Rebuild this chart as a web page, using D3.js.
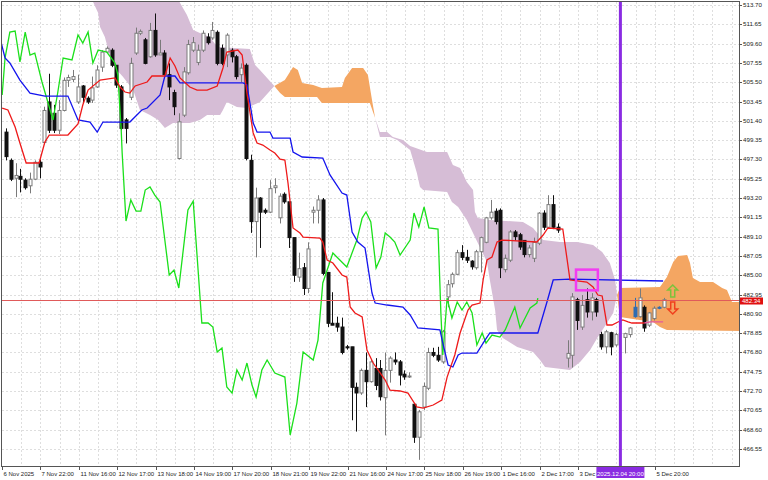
<!DOCTYPE html>
<html><head><meta charset="utf-8">
<script src="https://cdn.jsdelivr.net/npm/d3@7"></script>
<style>body{margin:0;background:#fff}svg{display:block}text{font-family:"Liberation Sans",Arial,sans-serif}</style>
</head><body><svg id="c" width="768" height="480"></svg>
<script>
// ---- candles (bar index 0..137), null = no bar ----
const openP  = [500.2,497.2,495.3,495.5,495.1,494.5,495.2,497.0,499.1,503.4,502.2,500.4,502.5,505.7,505.8,503.4,505.1,503.8,503.6,505.0,507.1,508.7,508.9,507.3,505.0,501.5,503.9,508.6,510.7,510.0,508.2,511.0,508.4,508.6,506.3,504.4,497.4,502.0,506.5,508.9,507.6,508.9,510.3,510.2,510.8,509.1,508.4,508.9,508.2,506.3,507.3,497.2,490.7,493.2,491.9,491.7,494.3,491.1,493.6,492.8,489.0,484.8,485.8,483.6,491.7,491.9,493.0,485.3,479.9,479.9,479.5,477.4,477.4,473.1,472.5,474.9,473.7,475.1,475.1,472.0,474.9,476.0,475.8,474.5,474.2,471.3,467.8,471.0,473.0,476.8,476.5,475.8,482.7,484.1,485.1,487.4,486.9,486.5,485.8,487.5,488.5,491.1,491.8,491.9,485.6,486.6,489.6,489.3,488.7,487.2,486.8,488.4,491.6,490.1,492.5,490.1,null,476.2,476.5,482.4,479.5,482.4,481.1,482.4,478.7,477.4,478.9,477.6,null,478.4,478.7,480.6,480.6,481.6,479.7,480.4,481.5,481.6];
const highP  = [500.6,497.4,496.9,496.3,495.3,495.9,497.2,497.3,502.9,506.4,503.1,503.6,506.0,506.3,506.8,506.3,505.2,504.0,506.1,507.3,508.9,509.3,509.1,507.3,505.2,501.7,508.1,511.3,511.1,510.2,511.8,512.8,510.0,508.9,507.5,504.7,502.2,507.1,510.0,510.3,509.5,511.0,510.7,511.9,511.0,509.5,510.7,509.1,508.4,507.5,507.5,497.8,494.3,493.3,492.1,495.1,495.3,493.7,493.8,492.8,489.0,487.4,486.3,488.5,492.3,493.5,493.2,485.3,483.2,480.6,480.5,477.6,477.4,473.6,475.1,476.8,476.0,476.2,476.0,476.8,476.4,476.8,476.0,474.9,474.7,471.4,470.7,473.6,477.3,477.3,477.4,479.2,484.5,485.3,487.7,488.2,487.7,486.6,487.7,489.1,491.2,493.0,492.1,492.1,487.2,489.8,489.8,489.5,488.7,488.2,489.0,491.7,491.9,493.5,493.5,490.5,null,478.1,483.1,482.6,482.9,483.6,483.1,482.6,479.0,479.2,479.0,478.9,null,478.9,479.5,482.6,483.6,481.8,481.1,481.7,481.7,482.6];
const lowP   = [497.2,495.0,493.3,493.8,494.1,493.7,495.1,495.3,499.0,500.1,500.1,500.0,502.4,505.0,505.5,503.2,503.3,503.2,503.3,504.9,506.6,508.6,507.1,504.9,500.4,499.0,503.6,508.4,510.5,507.4,508.1,508.2,508.4,506.2,503.6,502.0,497.3,501.8,506.3,508.7,507.3,508.7,509.5,510.0,507.3,507.3,507.1,507.6,505.8,505.5,497.2,489.5,486.9,487.9,491.5,491.6,493.7,490.5,492.6,487.9,484.3,484.3,482.9,483.1,490.5,490.5,485.0,479.5,479.7,479.0,476.6,477.1,469.6,468.4,472.3,471.0,473.6,472.8,471.7,468.0,473.6,475.5,473.3,473.9,474.1,467.2,465.4,470.7,472.8,476.3,475.8,475.6,481.6,483.7,485.0,486.6,486.3,485.6,485.6,485.3,488.4,490.9,490.4,484.7,485.3,486.4,488.7,487.7,486.9,486.9,486.4,488.2,489.8,490.0,489.9,489.5,null,475.2,475.2,479.2,479.2,480.5,480.2,480.6,477.1,476.7,476.5,477.4,null,476.7,478.4,480.5,480.5,479.0,479.5,480.2,481.4,481.5];
const closeP = [497.6,495.2,495.6,495.2,494.3,495.2,497.0,496.5,502.5,500.4,500.4,502.5,505.7,506.0,506.1,505.0,503.9,503.4,504.9,506.8,508.7,509.1,507.3,505.2,500.6,500.6,507.5,510.7,510.9,507.5,511.0,508.4,508.6,506.3,505.0,502.9,501.3,506.6,509.5,509.7,508.9,510.7,509.7,511.0,507.5,507.5,510.5,508.2,506.1,507.0,497.4,490.7,493.2,491.7,491.7,494.2,494.5,493.4,492.8,489.0,485.0,485.7,483.6,487.8,491.9,493.0,485.2,479.9,479.7,479.5,476.8,477.3,473.1,472.5,474.9,473.7,475.8,473.3,472.1,474.9,476.2,475.8,474.4,474.2,474.3,467.8,470.5,473.2,476.8,476.5,476.0,479.0,484.0,485.1,487.4,486.9,486.6,485.9,487.5,489.0,491.1,491.7,490.7,485.8,486.8,489.6,489.1,488.0,487.2,487.9,488.5,491.6,490.1,492.5,490.1,489.8,null,476.7,482.7,480.2,481.8,481.1,482.6,481.1,477.4,479.0,477.4,478.7,null,478.8,479.4,481.6,482.6,479.4,481.0,481.5,481.6,482.4];
const blueBars = [131, 136];

// ---- Ichimoku lines: [bar index, price] ----
const tenkan = [[-0.8,502.76],[0.4,502.55],[1.9,500.74],[2.9,499.04],[4.2,496.92],[6.9,496.92],[8.1,499.15],[9.0,499.89],[12.9,499.89],[15.0,501.06],[16.0,503.08],[17.1,504.67],[19.6,505.73],[22.7,505.95],[23.75,504.99],[24.8,504.46],[25.8,504.35],[26.9,505.10],[29.4,505.52],[30.4,506.16],[33.1,506.16],[34.2,508.07],[35.2,507.22],[36.25,505.95],[38.3,504.99],[39.8,504.67],[41.9,504.67],[44.0,505.10],[45.2,507.01],[46.0,508.71],[48.3,508.92],[49.2,508.39],[50.2,504.35],[51.5,500.11],[52.3,499.04],[53.5,498.83],[55.0,498.30],[56.0,497.98],[57.1,497.34],[58.1,497.24],[58.75,494.80],[59.8,490.02],[61.25,489.49],[61.9,489.06],[65.4,488.95],[66.0,488.53],[66.9,486.62],[68.1,486.30],[70.0,485.03],[71.0,484.81],[71.7,481.63],[72.7,480.99],[74.2,480.57],[75.2,477.06],[76.5,475.68],[77.5,474.94],[79.0,473.87],[80.0,472.81],[82.1,472.71],[83.75,472.49],[85.6,471.01],[86.9,470.90],[89.0,471.22],[90.8,471.75],[91.9,474.19],[93.5,476.53],[94.6,478.87],[96.25,481.31],[97.1,481.84],[98.75,482.05],[99.4,484.50],[100.2,486.62],[101.25,486.94],[102.3,488.53],[103.3,488.74],[110.6,488.53],[111.9,489.27],[112.9,490.02],[116.0,489.91],[117.5,484.50],[121.0,484.28],[122.3,483.75],[123.3,482.90],[124.2,482.80],[125.2,479.72],[126.25,479.72],[127.5,480.04],[128.5,480.25],[129.6,480.04],[130.4,479.93],[133.0,479.93],[134.2,480.04],[136.9,480.04]];
const tenkanPinkFrom = 133;
const kijun = [[-1.25,510.19],[-0.2,508.07],[0.8,507.54],[2.9,505.73],[5.0,504.35],[8.1,504.03],[12.9,504.03],[15.0,501.49],[17.5,501.27],[19.0,500.21],[20.2,501.27],[25.8,501.27],[28.3,502.55],[29.4,502.76],[32.1,504.14],[33.1,506.16],[35.2,506.16],[36.25,505.42],[49.4,505.42],[50.2,505.20],[51.5,501.17],[52.3,500.21],[55.0,500.21],[55.6,499.57],[59.2,499.57],[59.8,498.09],[61.7,497.56],[66.0,497.45],[67.5,495.65],[70.0,493.73],[71.0,493.52],[72.1,489.59],[73.3,488.53],[74.8,487.89],[76.25,483.11],[76.9,482.05],[79.4,481.84],[82.7,481.63],[84.2,480.78],[85.8,479.40],[90.4,479.19],[91.0,477.80],[92.1,475.47],[93.1,475.26],[94.2,476.53],[95.0,476.74],[98.1,476.74],[99.8,478.12],[100.8,478.87],[110.8,478.87],[112.7,482.16],[114.0,484.50],[117.5,484.60],[136.9,484.39]];
const chikou = [[-0.8,504.14],[-0.2,508.07],[0.8,510.83],[1.9,510.94],[2.9,507.65],[4.0,510.83],[5.0,508.39],[6.0,508.60],[7.5,505.52],[9.8,501.49],[10.8,504.46],[11.9,508.07],[13.75,507.86],[15.0,510.51],[16.0,509.66],[17.1,510.83],[18.1,507.54],[19.2,508.92],[21.0,508.71],[22.7,507.54],[23.3,506.27],[24.0,500.42],[24.2,497.98],[25.0,490.76],[26.0,492.99],[27.1,491.82],[28.1,491.82],[29.0,494.05],[30.0,494.37],[31.0,493.52],[32.1,492.78],[34.0,485.03],[35.0,485.56],[36.0,483.65],[37.9,491.93],[39.0,492.88],[40.8,479.93],[42.1,479.93],[43.1,479.50],[44.0,476.85],[45.0,477.27],[46.0,473.13],[47.1,472.49],[48.1,474.94],[49.2,473.87],[50.2,475.68],[51.25,473.34],[52.1,472.07],[53.3,474.94],[54.4,476.00],[56.0,474.62],[58.1,474.19],[59.2,468.03],[60.6,471.43],[61.9,476.85],[64.0,476.00],[65.0,478.12],[66.0,484.18],[68.1,487.36],[71.0,485.88],[73.1,488.74],[74.2,491.08],[75.0,491.72],[76.0,490.66],[77.1,485.77],[78.1,486.94],[79.0,489.49],[80.0,489.06],[81.0,488.53],[82.1,487.15],[84.2,488.74],[85.0,491.61],[86.0,490.12],[87.1,492.25],[88.1,490.02],[90.0,489.91],[90.6,480.99],[91.0,476.53],[91.9,482.58],[92.9,480.46],[94.0,482.16],[95.0,481.31],[96.0,482.16],[97.1,480.99],[98.1,477.59],[99.2,478.87],[100.0,477.80],[101.25,478.65],[102.9,478.44],[104.0,479.19],[106.0,481.63],[107.1,479.40],[109.2,481.52],[110.6,482.05],[110.8,482.58]];
const spanA = [[17.8,514.4],[19.2,512.85],[19.6,511.36],[20.6,510.30],[21.7,508.18],[23.1,506.80],[24.4,506.05],[26.5,504.67],[27.9,502.55],[30.0,502.02],[31.7,501.49],[33.1,500.64],[34.8,501.17],[38.3,501.17],[40.4,501.49],[41.9,502.02],[44.6,502.02],[45.2,502.55],[46.0,503.40],[48.1,502.87],[50.2,502.76],[52.9,503.40],[55.9,505.1],[58.1,505.73],[59.8,507.11],[60.8,506.80],[61.7,505.42],[64.0,505.20],[65.8,504.88],[70.0,504.99],[70.6,505.95],[72.1,507.01],[74.4,507.01],[75.4,506.27],[76.25,503.61],[76.9,501.70],[77.9,499.68],[80.0,499.68],[81.5,499.36],[84.2,498.30],[85.6,495.86],[86.25,494.37],[86.9,494.05],[91.9,493.84],[92.9,492.78],[94.2,492.25],[96.0,490.87],[98.3,488.42],[100.2,486.41],[100.8,484.50],[101.9,481.31],[102.3,479.19],[103.5,478.33],[106.5,477.38],[109.8,476.85],[111.25,476.00],[112.3,475.26],[117.5,474.94],[119.6,475.79],[121.7,477.06],[123.3,478.44],[125.2,479.93],[126.5,480.99],[127.3,482.90],[127.9,483.65],[136.25,483.75],[137.7,484.81],[139.0,486.41],[140.0,487.04],[141.9,487.15],[142.5,486.30],[143.1,484.71],[144.6,484.28],[147.3,484.28],[149.2,483.65],[150.2,483.43],[151.25,482.16],[154.0,482.16]];
const spanB = [[17.8,515.8],[35.5,514.6],[37.7,512.64],[39.0,511.04],[40.4,510.73],[42.5,510.30],[44.0,509.24],[50.8,509.03],[51.9,507.33],[52.9,506.80],[55.9,505.1],[57.1,504.35],[58.1,503.93],[64.8,503.93],[65.8,503.29],[75.8,503.29],[76.9,501.70],[77.9,500.21],[79.4,500.21],[80.6,499.68],[82.7,499.36],[84.2,498.73],[87.7,498.09],[91.9,498.09],[93.1,496.71],[94.6,496.39],[96.0,494.90],[97.3,494.05],[97.7,491.72],[98.3,491.08],[100.8,490.87],[107.7,490.66],[109.8,490.02],[111.9,488.74],[115.4,488.53],[119.0,488.53],[122.3,488.21],[124.2,487.47],[125.8,486.30],[126.9,484.50],[127.3,482.90],[127.9,480.56],[134.8,480.04],[136.25,479.50],[137.7,479.19],[154.0,479.08]];
const cloudCross = [55.9, 76.9, 127.3];

// ---- axes ----
const yTicks = [513.70,511.65,509.60,507.55,505.50,503.45,501.40,499.35,497.30,495.25,493.20,491.15,489.10,487.05,485.00,482.95,480.90,478.85,476.80,474.75,472.70,470.65,468.60,466.55];
const xTickLabels = ["6 Nov 2025","7 Nov 22:00","11 Nov 16:00","12 Nov 17:00","13 Nov 18:00","14 Nov 19:00","17 Nov 20:00","18 Nov 21:00","19 Nov 22:00","21 Nov 16:00","24 Nov 17:00","25 Nov 18:00","26 Nov 19:00","1 Dec 16:00","2 Dec 17:00","3 Dec 18:00",null,"5 Dec 20:00"];
const xTickEvery = 8;
const lastPrice = 482.34;
const eventBar = 128, eventLabel = "2025.12.04 20:00";
const markBox = {from:118.75, to:123.3, top:485.6, bottom:483.4};
const arrowBar = 138.9, upArrowPrice = 483.33, downArrowPrice = 481.52;

// ---- drawing ----
const svg = d3.select("#c");
svg.append("rect").attr("width",768).attr("height",480).attr("fill","#fff");
const P = {l:2, r:739, t:2, b:466};
const x = d3.scaleLinear().domain([0,1]).range([P.l, P.l+4.8]);
const barOff = 4;
const bx = i => x(i) + barOff;
const y = d3.scaleLinear().domain([466.55, 513.70]).range([449, 5]);
const ex = bx(eventBar), lw = 48;

svg.append("defs").append("clipPath").attr("id","pc").append("rect")
  .attr("x",P.l).attr("y",P.t).attr("width",P.r-P.l).attr("height",P.b-P.t);

// grid
const grid = svg.append("g").attr("stroke","#dedede").attr("stroke-dasharray","2,2").attr("stroke-width",1);
for (let s = 4; x(s) < P.r - 1; s += 4) {
  const xx = Math.round(x(s)) + 0.5;
  grid.append("line").attr("x1",xx).attr("x2",xx).attr("y1",P.t).attr("y2",P.b);
}
yTicks.forEach(t => {
  const yy = Math.round(y(t)) + 0.5;
  grid.append("line").attr("x1",P.l).attr("x2",P.r).attr("y1",yy).attr("y2",yy);
});

const plot = svg.append("g").attr("clip-path","url(#pc)");

// cloud
const bounds = [spanA[0][0], ...cloudCross, spanA[spanA.length-1][0]];
const polyLine = d3.line().x(d => bx(d[0])).y(d => y(d[1]));
for (let k = 0; k < bounds.length - 1; k++) {
  const a = bounds[k] - 1e-6, b = bounds[k+1] + 1e-6;
  const A = spanA.filter(d => d[0] >= a && d[0] <= b);
  const B = spanB.filter(d => d[0] >= a && d[0] <= b);
  const bull = d3.mean(A, d => d[1]) > d3.mean(B, d => d[1]);
  plot.append("path").attr("d", polyLine(A.concat(B.slice().reverse())) + "Z")
    .attr("fill", bull ? "#f4a662" : "#d6bdd6").attr("stroke","none");
}

// candles
const candles = plot.append("g");
openP.forEach((o, i) => {
  if (o == null) return;
  const c = closeP[i], h = highP[i], l = lowP[i];
  const cx = Math.round(bx(i));
  const bull = c >= o;
  const blue = blueBars.includes(i);
  const col = blue ? "#2f6db3" : (bull ? "#7a7a7a" : "#111");
  candles.append("line").attr("x1",cx+0.5).attr("x2",cx+0.5).attr("y1",y(h)).attr("y2",y(l))
    .attr("stroke", col).attr("stroke-width",1);
  const y0 = Math.min(y(o), y(c)), hh = Math.max(1, Math.abs(y(o) - y(c)));
  candles.append("rect").attr("x",cx-1).attr("y",y0).attr("width",3).attr("height",hh)
    .attr("fill", blue ? "#2f6db3" : (bull ? "#fff" : "#111"))
    .attr("stroke", col).attr("stroke-width",1);
});

// lines
const ln = d3.line().x(d => bx(d[0])).y(d => y(d[1]));
plot.append("path").attr("d", ln(chikou)).attr("fill","none").attr("stroke","#1be01b").attr("stroke-width",1.3);
plot.append("path").attr("d", ln(kijun)).attr("fill","none").attr("stroke","#1414ee").attr("stroke-width",1.3);
plot.append("path").attr("d", ln(tenkan.filter(d => d[0] <= tenkanPinkFrom))).attr("fill","none").attr("stroke","#ee1a1a").attr("stroke-width",1.3);
plot.append("path").attr("d", ln(tenkan.filter(d => d[0] >= tenkanPinkFrom))).attr("fill","none").attr("stroke","#e45a9a").attr("stroke-width",1.3);

// last price line
const yp = Math.round(y(lastPrice)) + 0.5;
plot.append("line").attr("x1",P.l).attr("x2",P.r).attr("y1",yp).attr("y2",yp).attr("stroke","#e05a5a").attr("stroke-width",1);

// marked box
plot.append("rect").attr("x",bx(markBox.from)).attr("y",y(markBox.top))
  .attr("width",bx(markBox.to)-bx(markBox.from)).attr("height",y(markBox.bottom)-y(markBox.top))
  .attr("fill","none").attr("stroke","#f23cf2").attr("stroke-width",2.5);

// arrows
function arrow(cx, cy, dir, color) {
  const pts = [[0,-6],[5,-1],[2,-1],[2,6],[-2,6],[-2,-1],[-5,-1]].map(p => [cx + p[0], cy + p[1]*dir]);
  plot.append("path").attr("d", d3.line()(pts) + "Z").attr("fill","none").attr("stroke",color).attr("stroke-width",1.5);
}
arrow(bx(arrowBar), y(upArrowPrice), 1, "#7cc23c");
arrow(bx(arrowBar), y(downArrowPrice), -1, "#f0401e");

// event vertical line
svg.append("line").attr("x1",ex).attr("x2",ex).attr("y1",P.t).attr("y2",P.b).attr("stroke","#8a2be2").attr("stroke-width",3);

// frame
svg.append("rect").attr("x",P.l-0.5).attr("y",P.t-0.5).attr("width",P.r-P.l+1).attr("height",P.b-P.t+1)
  .attr("fill","none").attr("stroke","#555").attr("stroke-width",1);

// y axis
const ya = svg.append("g");
yTicks.forEach(t => {
  const yy = Math.round(y(t)) + 0.5;
  ya.append("line").attr("x1",P.r).attr("x2",P.r+3).attr("y1",yy).attr("y2",yy).attr("stroke","#555");
  ya.append("text").attr("x",P.r+4).attr("y",yy+1.8).attr("font-size","6.2px").attr("fill","#222").text(t.toFixed(2));
});
// price label
svg.append("rect").attr("x",P.r+1).attr("y",yp-3).attr("width",23).attr("height",7).attr("fill","#e01010");
svg.append("text").attr("x",P.r+3).attr("y",yp+2.6).attr("font-size","6px").attr("fill","#fff").text(lastPrice.toFixed(2));

// x axis
const xa = svg.append("g");
const boxLeft = ex - lw/2;
xTickLabels.forEach((lab, k) => {
  if (lab == null) return;
  const xx = Math.round(x(k*xTickEvery)) + 0.5;
  xa.append("line").attr("x1",xx).attr("x2",xx).attr("y1",P.b).attr("y2",P.b+4).attr("stroke","#555");
  const t = xa.append("text").attr("x",xx+1).attr("y",P.b+9.5).attr("font-size","6px").attr("fill","#222").text(lab);
  // the event label box hides the end of a label running under it
  if (xx < boxLeft) {
    let s = lab;
    while (s.length > 1 && xx + 1 + t.node().getComputedTextLength() > boxLeft - 1) { s = s.slice(0, -1); t.text(s); }
  }
});
// event label on x axis
svg.append("rect").attr("x",boxLeft).attr("y",P.b+1).attr("width",lw).attr("height",11).attr("fill","#8a2be2");
svg.append("text").attr("x",ex).attr("y",P.b+9.5).attr("text-anchor","middle").attr("font-size","6px").attr("fill","#fff").text(eventLabel);
</script>
</body></html>
